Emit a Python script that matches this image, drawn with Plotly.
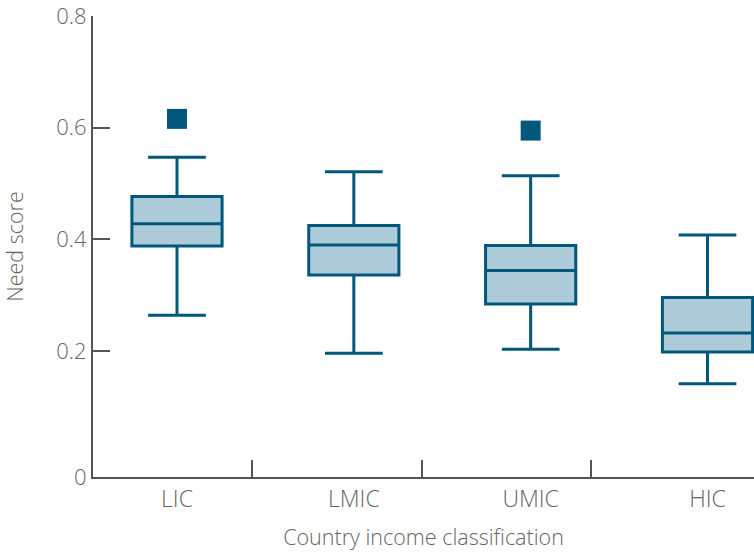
import plotly.graph_objects as go

# Need score distribution by country income group
categories = ["LIC", "LMIC", "UMIC", "HIC"]
lower_fence = [0.264, 0.196, 0.203, 0.141]
q1 = [0.388, 0.336, 0.284, 0.198]
median = [0.428, 0.390, 0.344, 0.232]
q3 = [0.477, 0.425, 0.389, 0.296]
upper_fence = [0.547, 0.521, 0.514, 0.408]

# Outlying countries (category index, score)
outlier_x = [0, 2]
outlier_y = [0.616, 0.595]

# Tick marks separating the groups along the x axis
group_separators = [0.424, 1.385, 2.343]

LINE = "#01587a"
FILL = "#aecbd9"
AXIS = "#555555"
TEXT = "#666666"
FONT = "Open Sans"

fig = go.Figure()

for i, cat in enumerate(categories):
    fig.add_trace(go.Box(
        x=[i],
        q1=[q1[i]],
        median=[median[i]],
        q3=[q3[i]],
        lowerfence=[lower_fence[i]],
        upperfence=[upper_fence[i]],
        name=cat,
        width=0.51,
        whiskerwidth=0.64,
        fillcolor=FILL,
        line=dict(color=LINE, width=3),
        boxpoints=False,
        hoverinfo="y",
        showlegend=False,
    ))

fig.add_trace(go.Scatter(
    x=outlier_x,
    y=outlier_y,
    mode="markers",
    marker=dict(symbol="square", size=20, color=LINE, line=dict(width=0)),
    showlegend=False,
    hoverinfo="y",
))

fig.update_layout(
    width=754,
    height=552,
    margin=dict(l=93, r=0, t=16, b=75, autoexpand=False),
    paper_bgcolor="white",
    plot_bgcolor="white",
    font=dict(family=FONT, color=TEXT, weight=300),
    xaxis=dict(
        range=[-0.475, 3.263],
        tickmode="array",
        tickvals=list(range(len(categories))),
        ticktext=categories,
        ticks="",
        tickfont=dict(size=23, color=TEXT, weight=300),
        showline=True,
        linecolor=AXIS,
        linewidth=2,
        showgrid=False,
        zeroline=False,
        minor=dict(
            tickmode="array",
            tickvals=group_separators,
            ticks="inside",
            ticklen=17,
            tickwidth=1.5,
            tickcolor=AXIS,
            showgrid=False,
        ),
        title=dict(text="Country income classification", font=dict(size=21.5, color=TEXT, weight=300), standoff=17),
    ),
    yaxis=dict(
        range=[-0.026, 0.8004],
        tickmode="array",
        tickvals=[-0.026, 0.2, 0.4, 0.6, 0.8],
        ticktext=["0", "0.2", "0.4", "0.6", "0.8"],
        ticks="inside",
        ticklen=17,
        tickwidth=2,
        tickcolor=AXIS,
        tickfont=dict(size=22, color=TEXT, weight=300),
        ticklabeloverflow="allow",
        showline=True,
        linecolor=AXIS,
        linewidth=2,
        showgrid=False,
        zeroline=False,
        title=dict(text="Need score", font=dict(size=21.5, color=TEXT, weight=300), standoff=27),
    ),
)

fig.write_html("out.html")
